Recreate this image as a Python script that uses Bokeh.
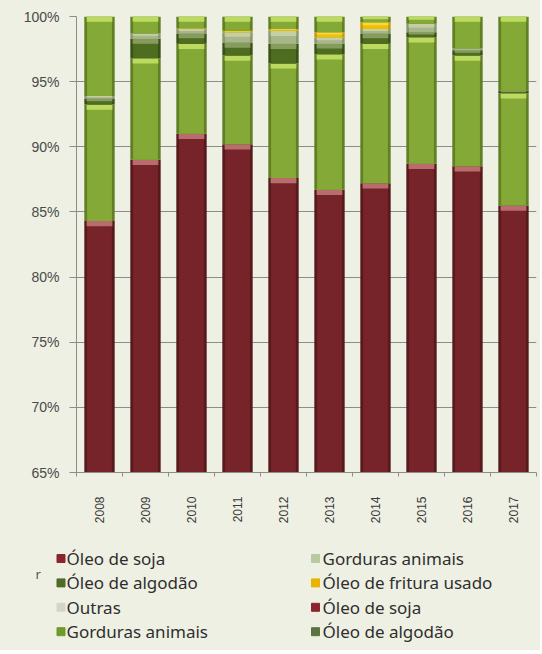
import math
import numpy as np
from bokeh.plotting import figure
from bokeh.models import FixedTicker, PrintfTickFormatter, Range1d, Label, ColumnDataSource
from bokeh.layouts import column
from bokeh.embed import file_html
from bokeh.resources import INLINE

# ---------------- data (shares in %, bottom -> top of each stacked bar) ----------------
years = [2008, 2009, 2010, 2011, 2012, 2013, 2014, 2015, 2016, 2017]
oleo_soja        = [84.3, 89.0, 91.0, 90.2, 87.6, 86.7, 87.2, 88.7, 88.5, 85.5]
gorduras_animais = [8.95, 7.8, 6.9, 6.8, 8.8, 10.4, 10.7, 9.7, 8.5, 8.6]
oleo_algodao     = [0.45, 1.5, 0.8, 1.0, 1.5, 0.8, 0.8, 0.4, 0.4, 0.2]
outras           = [0.2, 0.4, 0.35, 0.8, 1.0, 0.5, 0.35, 0.65, 0.15, 0.0]
oleo_fritura     = [0.0, 0.0, 0.05, 0.1, 0.15, 0.4, 0.5, 0.0, 0.0, 0.0]
outros_materiais = [6.1, 1.3, 0.9, 1.1, 0.95, 1.2, 0.45, 0.55, 2.45, 5.7]

y_ticks = [65, 70, 75, 80, 85, 90, 95, 100]

legend_col1 = ["Óleo de soja", "Óleo de algodão", "Outras", "Gorduras animais"]
legend_col2 = ["Gorduras animais", "Óleo de fritura usado", "Óleo de soja", "Óleo de algodão"]
legend_col1_colors = ["#8a2530", "#4f6b2a", "#d2d6c8", "#6f9a2c"]
legend_col2_colors = ["#b8c8a0", "#e8b400", "#8a2530", "#5c7342"]

BG = "#eef0e3"

# (values, edge colour, body colour, highlight colour)
layers = [
    (oleo_soja,        "#561a1d", "#76232a", "#c47a78"),
    (gorduras_animais, "#5f8024", "#84a936", "#c6e366"),
    (oleo_algodao,     "#3a5217", "#4f6d20", "#8fa468"),
    (outras,           "#8a9870", "#a9b68a", "#c9d3aa"),
    (oleo_fritura,     "#c89c00", "#f0c000", "#f8dc50"),
    (outros_materiais, "#5f8024", "#84a936", "#c6e366"),
]

W = 540
p = figure(width=W, height=543, output_backend="svg", toolbar_location=None,
           x_range=Range1d(years[0] - 0.5, years[-1] + 0.5), y_range=Range1d(65, 100),
           min_border_left=76, min_border_right=4, min_border_top=16, min_border_bottom=71)
p.frame_align = False
p.background_fill_color = BG
p.border_fill_color = BG
p.outline_line_color = None

x = np.array(years, dtype=float)
bottom = np.zeros(len(years))
for vals, edge, body, hcol in layers:
    v = np.array(vals, dtype=float)
    top = bottom + v
    p.vbar(x=x, bottom=bottom, top=top, width=0.66, fill_color=edge, line_color=None)
    p.vbar(x=x, bottom=bottom, top=top, width=0.54, fill_color=body, line_color=None)
    h = np.minimum(0.4, v * 0.45)
    p.vbar(x=x, bottom=top - h, top=top, width=0.56, fill_color=hcol, line_color=None, fill_alpha=0.85)
    bottom = top

# y axis
p.yaxis.ticker = FixedTicker(ticks=y_ticks, minor_ticks=[])
p.yaxis.formatter = PrintfTickFormatter(format="%d%%")
p.yaxis.axis_line_color = "#8c8c8c"
p.yaxis.major_tick_line_color = "#8c8c8c"
p.yaxis.major_tick_out = 7
p.yaxis.major_tick_in = 0
p.yaxis.minor_tick_line_color = None
p.yaxis.major_label_standoff = 10
p.yaxis.major_label_text_font = "Liberation Sans"
p.yaxis.major_label_text_font_size = "14px"
p.yaxis.major_label_text_color = "#4a4a4a"

# x axis
bounds = [y - 0.5 for y in years] + [years[-1] + 0.5]
p.xaxis.ticker = FixedTicker(ticks=years, minor_ticks=bounds)
p.xaxis.formatter = PrintfTickFormatter(format="%d")
p.xaxis.axis_line_color = "#8c8c8c"
p.xaxis.major_tick_line_color = None
p.xaxis.major_tick_out = 0
p.xaxis.major_tick_in = 0
p.xaxis.minor_tick_line_color = "#8c8c8c"
p.xaxis.minor_tick_out = 4
p.xaxis.minor_tick_in = 0
p.xaxis.major_label_orientation = math.pi / 2
p.xaxis.major_label_standoff = 20
p.xaxis.major_label_text_font = "Liberation Sans"
p.xaxis.major_label_text_font_size = "12px"
p.xaxis.major_label_text_color = "#3a3a3a"

p.xgrid.grid_line_color = None
p.ygrid.ticker = FixedTicker(ticks=y_ticks)
p.ygrid.grid_line_color = "#8c8c8c"
p.ygrid.grid_line_width = 1

# ---------------- legend panel (pixel-space figure) ----------------
LH = 107
lg = figure(width=W, height=LH, output_backend="svg", toolbar_location=None,
            x_axis_type=None, y_axis_type=None,
            x_range=Range1d(0, W), y_range=Range1d(LH, 0),
            min_border_left=0, min_border_right=0, min_border_top=0, min_border_bottom=0)
lg.frame_align = False
lg.background_fill_color = BG
lg.border_fill_color = BG
lg.outline_line_color = None
lg.grid.grid_line_color = None

row_y0, row_step = 15.0, 24.4
icon_x = [60.5, 315.0]
text_x = [66.0, 322.0]
for ci, (labels, colors) in enumerate([(legend_col1, legend_col1_colors),
                                       (legend_col2, legend_col2_colors)]):
    ys = [row_y0 + i * row_step for i in range(len(labels))]
    src = ColumnDataSource(dict(ix=[icon_x[ci]] * len(labels), tx=[text_x[ci]] * len(labels),
                                y=ys, label=labels, color=colors))
    lg.scatter(x="ix", y="y", source=src, marker="square", size=8,
               fill_color="color", line_color="color")
    lg.text(x="tx", y="y", text="label", source=src, text_baseline="middle", text_align="left",
            text_font={"value": "Noto Sans"}, text_font_size="17px", text_color="#2e2e2e")

lg.add_layout(Label(x=35, y=30, x_units="data", y_units="data", text="r",
                    text_font="Noto Sans", text_font_size="13px", text_color="#555555",
                    text_baseline="middle"))

layout = column(p, lg, spacing=0)
layout.styles = {"background-color": BG}

open("out.html", "w").write(file_html(layout, INLINE))
